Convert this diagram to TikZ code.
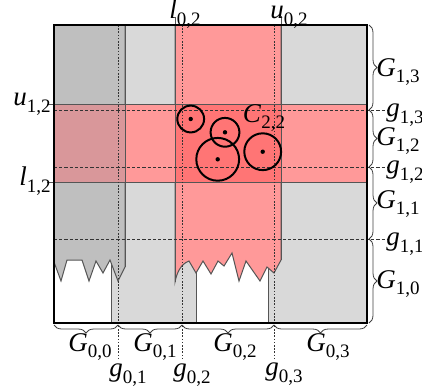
\documentclass[tikz,border=0pt]{standalone}
\usepackage{fontspec}
\setmainfont{Liberation Serif}
\usetikzlibrary{decorations.pathreplacing}
\definecolor{dgray}{HTML}{BFBFBF}
\definecolor{lgray}{HTML}{D9D9D9}
\definecolor{redc}{HTML}{FF9999}
\definecolor{redd}{HTML}{FF7575}
\definecolor{mixc}{HTML}{D9979A}
\definecolor{edge}{HTML}{555555}
\newcommand{\symb}[2]{\textit{#1}\raisebox{-0.55ex}{\fontsize{9.5}{10}\selectfont #2}}
\begin{document}
\begin{tikzpicture}[x=0.5pt,y=-0.5pt,
  edgeline/.style={draw=edge, line width=0.5pt},
  vdot/.style={draw=black!80, line width=0.5pt, dash pattern=on 0.8pt off 0.8pt},
  hdash/.style={draw=black!80, line width=0.5pt, dash pattern=on 1.6pt off 1pt},
  circ/.style={draw=black, line width=1pt},
  dotc/.style={fill=black},
  brc/.style={decorate, decoration={brace, amplitude=4pt}, draw=black!75, line width=0.4pt},
  lab/.style={font=\fontsize{13.5}{15}\selectfont, inner sep=0pt}]
\useasboundingbox (0,0) rectangle (422,387);
% light gray columns (background)
\fill[lgray] (111,25) rectangle (196,323);
\fill[lgray] (268,25) rectangle (367,323);
\draw[edgeline] (111,323) -- (111,262);
\draw[edgeline] (196,323) -- (196,270);
\draw[edgeline] (268,323) -- (268,265);
% dark gray column
\draw[edgeline, fill=dgray] (54,25) -- (125,25) -- (125,267) -- (118,281) -- (110,260) -- (103,273) -- (96,261) -- (89,281) -- (82,260) -- (67,260) -- (61,281) -- (54,262) -- cycle;
% red column
\draw[edgeline, fill=redc] (175,25) -- (281,25) -- (281,260) -- (274,273) -- (267,267) -- (260,281) -- (246,261) -- (239,281) -- (232,253) -- (224,266) -- (218,261) -- (211,274) -- (203,261) -- (196,273) -- (189,261) .. controls (181,264) and (177,272) .. (175,282) -- cycle;
% horizontal band
\fill[mixc] (54,104) rectangle (125,182);
\fill[redc] (125,104) rectangle (175,182);
\fill[redd] (175,104) rectangle (281,182);
\fill[redc] (281,104) rectangle (367,182);
\draw[edgeline] (47,104) -- (367,104);
\draw[edgeline] (47,182) -- (367,182);
\draw[edgeline] (125,25) -- (125,267);
\draw[edgeline] (175,17) -- (175,282);
\draw[edgeline] (281,16) -- (281,260);
% dotted / dashed grid lines
\draw[vdot] (118,25) -- (118,358);
\draw[vdot] (182,25) -- (182,358);
\draw[vdot] (274,25) -- (274,358);
\draw[hdash] (54,110) -- (388,110);
\draw[hdash] (54,167) -- (388,167);
\draw[hdash] (54,239) -- (388,239);
% circles
\draw[circ] (190.7,119) circle[radius=6.7pt];
\draw[circ] (225,132.3) circle[radius=7.2pt];
\draw[circ] (217.7,159.3) circle[radius=10.7pt];
\draw[circ] (262.7,151.7) circle[radius=9.2pt];
\fill[dotc] (190.7,119) circle[radius=1.1pt];
\fill[dotc] (225,132.3) circle[radius=1.1pt];
\fill[dotc] (217.7,159.3) circle[radius=1.1pt];
\fill[dotc] (262.7,151.7) circle[radius=1.1pt];
\node[lab] (c22) at (264,118) {\symb{C}{2,2}};
% outer box
\draw[line width=1.2pt] (54,25) rectangle (367,323);
% braces right
\draw[brc] (369,25) -- (369,110);
\draw[brc] (369,110) -- (369,167);
\draw[brc] (369,167) -- (369,239);
\draw[brc] (369,239) -- (369,323);
% braces bottom
\draw[brc] (118,325) -- (54,325);
\draw[brc] (182,325) -- (118,325);
\draw[brc] (274,325) -- (182,325);
\draw[brc] (367,325) -- (274,325);
% labels
\node[lab] (l02) at (185,14) {\symb{l}{0,2}};
\node[lab] (u02) at (289,17) {\symb{u}{0,2}};
\node[lab] (u12) at (32,104) {\symb{u}{1,2}};
\node[lab] (l12) at (35,181) {\symb{l}{1,2}};
\node[lab] (G13) at (398,72) {\symb{G}{1,3}};
\node[lab] (g13) at (405,115) {\symb{g}{1,3}};
\node[lab] (G12) at (398,141) {\symb{G}{1,2}};
\node[lab] (g12) at (405,172) {\symb{g}{1,2}};
\node[lab] (G11) at (398,204) {\symb{G}{1,1}};
\node[lab] (g11) at (405,244) {\symb{g}{1,1}};
\node[lab] (G10) at (398,284) {\symb{G}{1,0}};
\node[lab] (G00) at (90,347) {\symb{G}{0,0}};
\node[lab] (G01) at (155,347) {\symb{G}{0,1}};
\node[lab] (G02) at (235,347) {\symb{G}{0,2}};
\node[lab] (G03) at (328,347) {\symb{G}{0,3}};
\node[lab] (g01) at (128,375) {\symb{g}{0,1}};
\node[lab] (g02) at (192,375) {\symb{g}{0,2}};
\node[lab] (g03) at (284,374) {\symb{g}{0,3}};
\end{tikzpicture}
\end{document}
